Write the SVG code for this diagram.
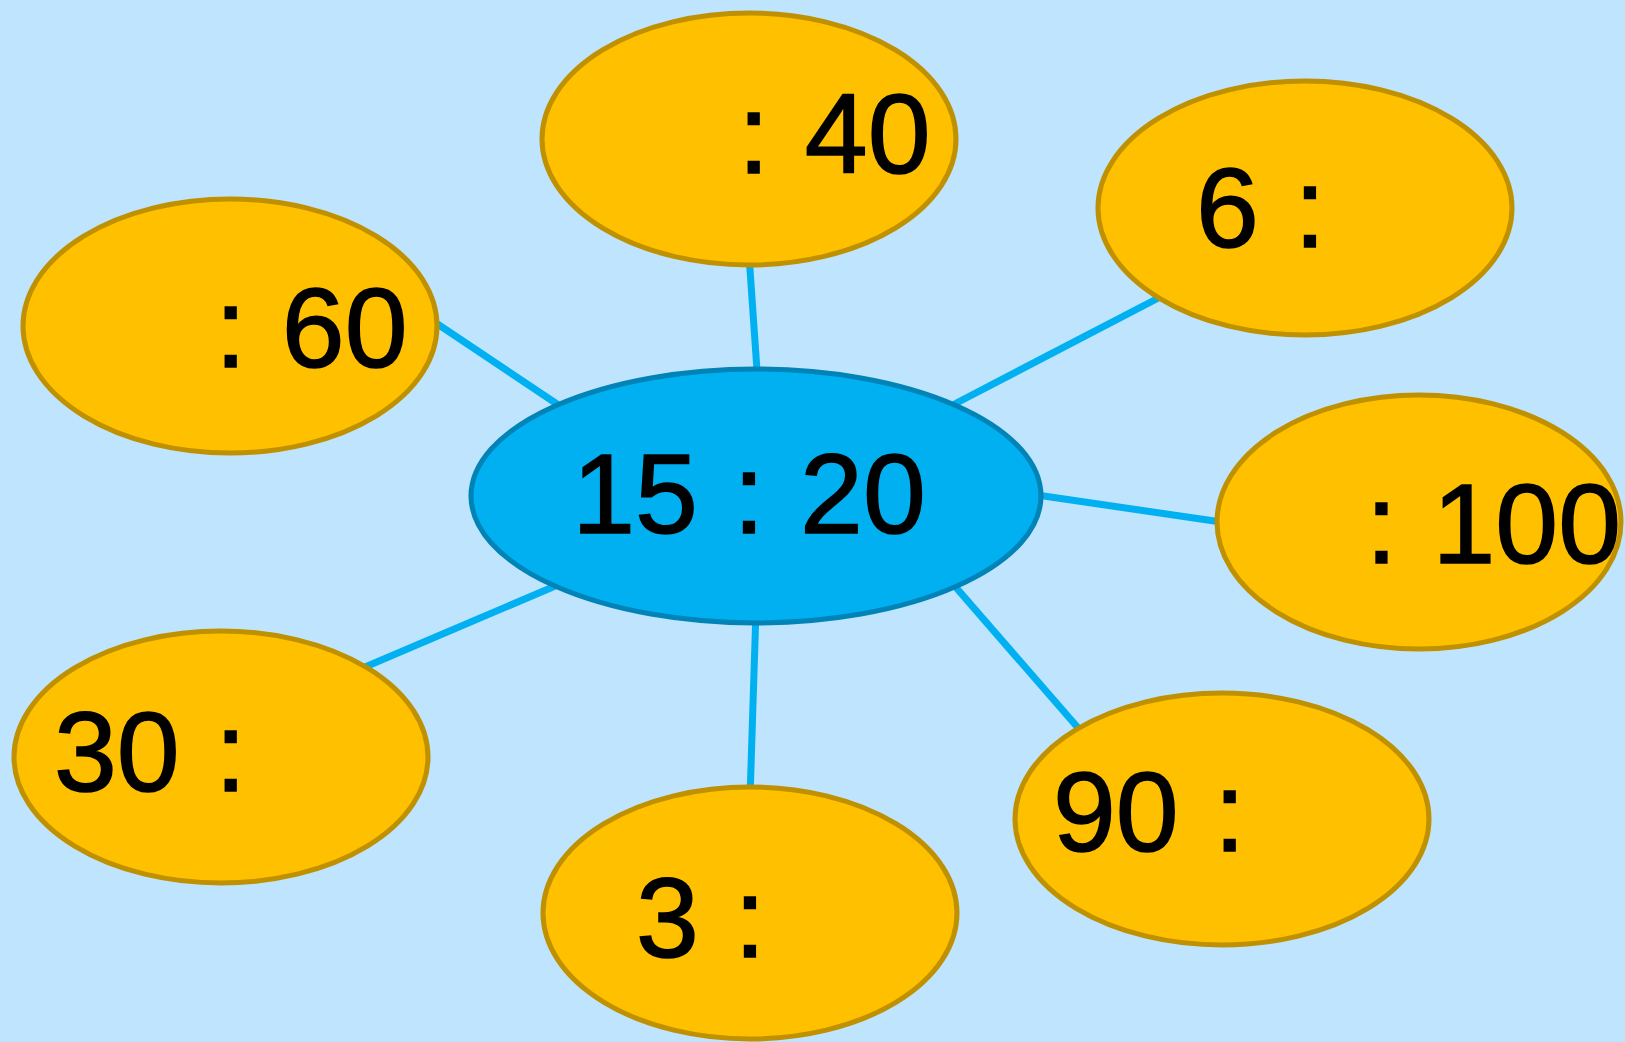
<svg xmlns="http://www.w3.org/2000/svg" width="1625" height="1042" viewBox="0 0 1625 1042">
<style>
.bg{fill:#bfe4fd}
.leaf{fill:#ffc000;stroke:#bf9000;stroke-width:5}
.hub{fill:#00b0f0;stroke:#0083b6;stroke-width:5}
.conn{stroke:#00b0f0;stroke-width:7;fill:none;stroke-linecap:butt}
.t{font-family:"Comic Sans MS","Liberation Sans",Arial,sans-serif;font-size:113px;fill:#000;stroke:#000;stroke-width:1.5;word-spacing:4px}
</style>
<rect class="bg" x="0" y="0" width="1625" height="1042"/>
<g id="connectors">
<line class="conn" x1="758" y1="385" x2="749" y2="255"/>
<line class="conn" x1="945" y1="409" x2="1168" y2="293"/>
<line class="conn" x1="566" y1="410" x2="430" y2="319"/>
<line class="conn" x1="1030" y1="494" x2="1228" y2="523"/>
<line class="conn" x1="567" y1="581" x2="358" y2="670"/>
<line class="conn" x1="756" y1="610" x2="750" y2="798"/>
<line class="conn" x1="946" y1="576" x2="1086" y2="737"/>
</g>
<g id="node-40">
<ellipse class="leaf" cx="749" cy="139" rx="207" ry="126"/>
<text class="t" x="738" y="173">: 40</text>
</g>
<g id="node-6">
<ellipse class="leaf" cx="1305" cy="208" rx="207" ry="127"/>
<text class="t" x="1196" y="247">6 :</text>
</g>
<g id="node-60">
<ellipse class="leaf" cx="230" cy="326" rx="207" ry="127"/>
<text class="t" x="215" y="367">: 60</text>
</g>
<g id="node-100">
<ellipse class="leaf" cx="1419" cy="522" rx="202" ry="127"/>
<text class="t" x="1621" y="563" text-anchor="end">: 100</text>
</g>
<g id="node-30">
<ellipse class="leaf" cx="221" cy="757" rx="207" ry="126"/>
<text class="t" x="54" y="791">30 :</text>
</g>
<g id="node-3">
<ellipse class="leaf" cx="750" cy="913" rx="207" ry="126"/>
<text class="t" x="636" y="957">3 :</text>
</g>
<g id="node-90">
<ellipse class="leaf" cx="1222" cy="819" rx="207" ry="126"/>
<text class="t" x="1053" y="851">90 :</text>
</g>
<g id="node-center">
<ellipse class="hub" cx="756" cy="496" rx="285" ry="127"/>
<text class="t" x="749" y="533" text-anchor="middle">15 : 20</text>
</g>
</svg>
